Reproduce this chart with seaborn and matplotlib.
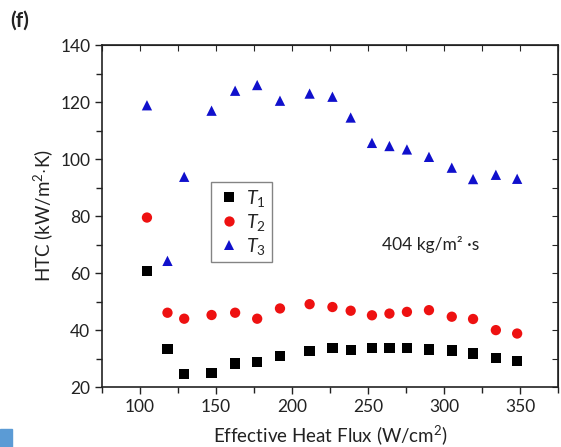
import matplotlib
matplotlib.use('Agg')
import matplotlib.pyplot as plt
import pandas as pd
import seaborn as sns
from matplotlib.patches import Rectangle
from matplotlib.ticker import MultipleLocator

# effective heat flux (W/cm2)
heat_flux = [104.5, 118, 129, 147, 162.5, 177, 192, 211.5, 226.5,
             238.5, 252.5, 264, 275.5, 290, 305, 319, 334, 348]
# HTC (kW/m2 K)
htc_t1 = [60.8, 33.3, 24.5, 25.0, 28.3, 28.7, 30.9, 32.7, 33.6,
          33.0, 33.6, 33.6, 33.6, 33.2, 32.8, 31.8, 30.3, 29.2]
htc_t2 = [79.5, 46.1, 44.0, 45.3, 46.1, 44.0, 47.6, 49.1, 48.1,
          46.8, 45.2, 45.8, 46.4, 47.0, 44.7, 43.9, 40.0, 38.8]
htc_t3 = [118.9, 64.3, 93.8, 117.0, 124.0, 126.0, 120.5, 123.0, 121.9,
          114.6, 105.7, 104.6, 103.4, 100.8, 97.0, 93.0, 94.5, 93.1]
series = ['$T_{\\mathit{1}}$', '$T_{\\mathit{2}}$', '$T_{\\mathit{3}}$']

df = pd.concat([
    pd.DataFrame({'flux': heat_flux, 'htc': vals, 'series': name})
    for name, vals in zip(series, [htc_t1, htc_t2, htc_t3])
])

sns.set_style('ticks')
plt.rcParams['font.family'] = ['Lato', 'DejaVu Sans']
plt.rcParams['mathtext.fontset'] = 'custom'
plt.rcParams['mathtext.it'] = 'Lato:italic'
plt.rcParams['mathtext.rm'] = 'Lato'

fig = plt.figure(figsize=(5.61, 4.47), dpi=100)
ax = fig.add_axes([0.182, 0.134, 0.813, 0.765])

sns.scatterplot(
    data=df, x='flux', y='htc', hue='series', style='series',
    palette={series[0]: 'black', series[1]: '#ee1111', series[2]: '#1010cc'},
    markers={series[0]: 's', series[1]: 'o', series[2]: '^'},
    s=55, linewidth=0, ax=ax,
)

ax.set_xlim(75, 375)
ax.set_ylim(20, 140)
ax.xaxis.set_major_locator(MultipleLocator(50))
ax.xaxis.set_minor_locator(MultipleLocator(25))
ax.yaxis.set_major_locator(MultipleLocator(20))
ax.yaxis.set_minor_locator(MultipleLocator(10))
ax.tick_params(which='both', direction='out', labelsize=12.5, width=1, colors='#222222')
ax.tick_params(which='major', length=5)
ax.tick_params(which='minor', length=4)

# inward ticks on top and right
top = ax.secondary_xaxis('top')
top.xaxis.set_major_locator(MultipleLocator(25))
top.tick_params(direction='in', length=4, labeltop=False)
right = ax.secondary_yaxis('right')
right.yaxis.set_major_locator(MultipleLocator(10))
right.tick_params(direction='in', length=4, labelright=False)

for sp in ax.spines.values():
    sp.set_color('#222222')
    sp.set_linewidth(1.2)

ax.set_xlabel('Effective Heat Flux (W/cm$^{2}$)', fontsize=13.5, color='#222222', labelpad=6)
ax.set_ylabel('HTC (kW/m$^{2}$$\\cdot$K)', fontsize=13.5, color='#222222', labelpad=4)

ax.text(291, 70, '404 kg/m\u00b2 \u00b7s', fontsize=12.5, ha='center', va='center', color='#222222')

leg = ax.legend(loc='upper left', bbox_to_anchor=(0.239, 0.60), borderaxespad=0,
                frameon=True, fancybox=False, edgecolor='#666666', fontsize=14,
                handletextpad=0.3, borderpad=0.3, labelspacing=0.15,
                handlelength=1.2)
leg.get_frame().set_linewidth(1)

fig.text(0.018, 0.94, '(f)', fontsize=15, fontweight='bold', color='#222222')
fig.patches.append(Rectangle((0, 0), 0.022, 0.04, transform=fig.transFigure,
                             color='#5b9bd5', figure=fig))

fig.savefig('out.png', dpi=100)
